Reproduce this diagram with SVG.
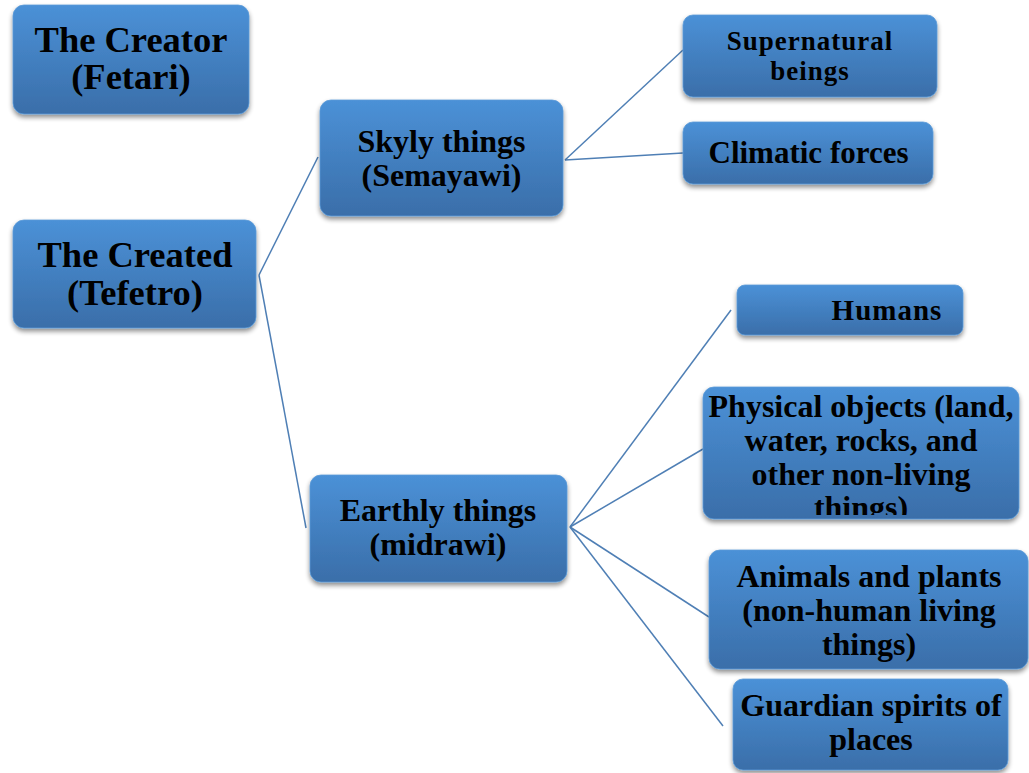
<svg xmlns="http://www.w3.org/2000/svg" width="1029" height="773" viewBox="0 0 1029 773">
<defs>
<linearGradient id="g" x1="0" y1="0" x2="0" y2="1">
<stop offset="0" stop-color="#4b91d7"/>
<stop offset="1" stop-color="#3a6ea9"/>
</linearGradient>
<filter id="sh" x="-10%" y="-10%" width="120%" height="130%">
<feGaussianBlur in="SourceAlpha" stdDeviation="2.5"/>
<feOffset dx="0" dy="3" result="b"/>
<feComponentTransfer><feFuncA type="linear" slope="0.45"/></feComponentTransfer>
<feMerge><feMergeNode/><feMergeNode in="SourceGraphic"/></feMerge>
</filter>
<clipPath id="clipPhys"><rect x="703" y="387" width="316" height="128"/></clipPath>
</defs>
<style>
.box{fill:url(#g);stroke:#5a9ad8;stroke-width:0.8;filter:url(#sh)}
.t{font-family:"Liberation Serif","Times New Roman",serif;font-weight:bold;fill:#000;text-anchor:middle}
.conn line{stroke:#4f7fb5;stroke-width:1.5;fill:none}
</style>
<rect width="1029" height="773" fill="#fff"/>
<g class="conn" id="connectors">
<line x1="259" y1="275" x2="318" y2="157"/>
<line x1="259" y1="275" x2="306" y2="528"/>
<line x1="565" y1="160" x2="683" y2="50"/>
<line x1="565" y1="160" x2="683" y2="153"/>
<line x1="570" y1="527" x2="731" y2="310"/>
<line x1="570" y1="527" x2="703" y2="449"/>
<line x1="570" y1="527" x2="709" y2="617"/>
<line x1="570" y1="527" x2="723" y2="726"/>
</g>
<g id="creator">
<rect class="box" x="13" y="5" width="236" height="109" rx="11"/>
<text class="t" font-size="36.5" x="131" y="52">The Creator</text>
<text class="t" font-size="36.5" x="131" y="89">(Fetari)</text>
</g>
<g id="created">
<rect class="box" x="13" y="220" width="243" height="108" rx="11"/>
<text class="t" font-size="36.5" x="135" y="267">The Created</text>
<text class="t" font-size="36.5" x="135" y="305">(Tefetro)</text>
</g>
<g id="skyly">
<rect class="box" x="320" y="100" width="243" height="116" rx="11"/>
<text class="t" font-size="32" x="441.5" y="152">Skyly things</text>
<text class="t" font-size="32" x="441.5" y="186">(Semayawi)</text>
</g>
<g id="earthly">
<rect class="box" x="310" y="475" width="257" height="107" rx="11"/>
<text class="t" font-size="32" x="438" y="521">Earthly things</text>
<text class="t" font-size="32" x="438" y="555">(midrawi)</text>
</g>
<g id="supernatural">
<rect class="box" x="683" y="15" width="254" height="82" rx="10"/>
<text class="t" font-size="27" letter-spacing="1" x="810" y="50">Supernatural</text>
<text class="t" font-size="27" letter-spacing="1" x="810" y="80">beings</text>
</g>
<g id="climatic">
<rect class="box" x="683" y="122" width="250" height="62" rx="10"/>
<text class="t" font-size="31" x="808.5" y="163">Climatic forces</text>
</g>
<g id="humans">
<rect class="box" x="737" y="285" width="226" height="50" rx="8"/>
<text class="t" font-size="29" letter-spacing="1" x="887" y="320">Humans</text>
</g>
<g id="physical">
<rect class="box" x="703" y="387" width="316" height="132" rx="11"/>
<g clip-path="url(#clipPhys)">
<text class="t" font-size="32" x="861" y="417">Physical objects (land,</text>
<text class="t" font-size="32" x="861" y="451">water, rocks, and</text>
<text class="t" font-size="32" x="861" y="485">other non-living</text>
<text class="t" font-size="32" x="861" y="518">things)</text>
</g>
</g>
<g id="animals">
<rect class="box" x="709" y="550" width="319" height="119" rx="11"/>
<text class="t" font-size="32" x="869" y="587">Animals and plants</text>
<text class="t" font-size="32" x="869" y="621">(non-human living</text>
<text class="t" font-size="32" x="869" y="655">things)</text>
</g>
<g id="guardian">
<rect class="box" x="733" y="679" width="275" height="91" rx="10"/>
<text class="t" font-size="32" x="871" y="716">Guardian spirits of</text>
<text class="t" font-size="32" x="871" y="750">places</text>
</g>
</svg>
